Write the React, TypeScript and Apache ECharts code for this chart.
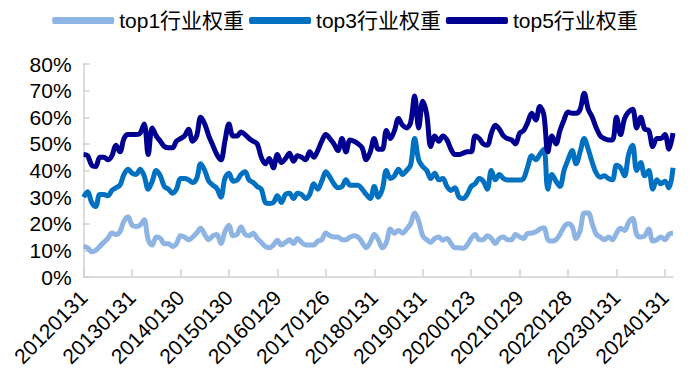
import React, { useEffect, useRef } from "react";
import * as echarts from "echarts";

const janLabels = [
  "20120131", "20130131", "20140130", "20150130", "20160129", "20170126", "20180131",
  "20190131", "20200123", "20210129", "20220128", "20230131", "20240131",
];
const pointCount = 147;

const seriesNames = ["top1行业权重", "top3行业权重", "top5行业权重"];
const seriesColors = ["#8DB4E2", "#0070C0", "#000090"];

const top1 = [
  11.5, 11, 9.5, 10, 11.5, 13, 14.5, 16.5, 16, 17, 21, 22.5, 19.5, 19, 19.5, 21.5, 14, 12, 15, 14.5, 12.5, 12.5, 11.5, 12.5, 15.5,
  15, 14, 15, 16.5, 18.3, 16, 14, 15.5, 16, 12.6, 17, 19.4, 15.5, 16, 18.8, 16, 15.5, 16.4, 14.5, 13, 11.5, 11, 12, 13.8,
  12, 13, 14, 12.6, 14.5, 13, 12, 12, 12, 13.5, 14, 16.5, 15.5, 15, 15, 14, 14, 15, 15.5, 15, 13, 11, 13, 16,
  14, 11, 13, 18, 16.4, 17.5, 16.5, 18, 20, 24, 21, 15.5, 14, 13, 14.5, 15, 13.8, 14.5, 12.6, 11, 11, 10.8, 12, 14.5, 16,
  14, 14, 15.5, 14.5, 12.6, 14.5, 15, 14, 14, 16, 15, 14.5, 16.4, 16.5, 17, 18, 18.5, 14, 13.5, 14, 16, 18.8, 20, 19,
  14.5, 17.5, 24, 24, 20, 16, 15, 14, 15, 14, 16.5, 18.3, 17.5, 20.5, 22, 16, 15, 15.5, 18, 13.5, 14, 15, 14, 16, 16.5,
];

const top3 = [
  30, 32, 28, 26.5, 31, 31, 30.5, 32.5, 33.5, 34.5, 38.5, 40.5, 39, 38.5, 40.5, 38, 33, 36, 40, 38, 34, 33, 31.5, 33, 37,
  37, 36.5, 35.5, 37, 42.5, 40, 36, 34.5, 33.3, 30, 37, 39, 36, 36.4, 38.5, 39.5, 36.4, 35.5, 34, 33, 28, 27.6, 28, 30.5,
  28, 31, 31.5, 29.5, 31.5, 31, 29.5, 31, 35, 33, 36, 39.5, 37.5, 35, 33.5, 34, 36.5, 34.5, 34.5, 34.5, 33, 31, 29.5, 34,
  30, 33, 40, 37, 38, 40.5, 38.5, 40, 42, 52, 44, 41.5, 40, 37, 39, 36.5, 37, 34, 32.5, 33.5, 30, 29.5, 31, 34, 35,
  37, 36, 33, 40, 36.5, 38.5, 37, 36.4, 36.4, 36.4, 36.4, 37, 41.4, 45.5, 44, 46, 48, 33, 38.5, 36, 34, 40, 44, 47.5,
  42.5, 47, 52, 48, 43, 39, 37.5, 38, 37, 36.5, 42, 41, 38, 46, 49.5, 40, 43, 38, 40, 33, 36.5, 35, 36, 33.5, 41,
];

const top5 = [
  46, 45.5, 42, 41.5, 45, 45, 44, 45.5, 49.5, 47, 52, 53.5, 53.5, 53.5, 54, 57.5, 46, 56, 53, 51, 49, 48.5, 48.5, 51, 52,
  53, 55.5, 51, 53, 60, 57.5, 53, 49.5, 46, 44, 51, 57.5, 53, 53, 54.5, 53.5, 52, 51, 50, 45, 42.5, 44.5, 41, 46,
  43, 44.5, 46.5, 43.5, 45.5, 45, 44, 47, 45, 47.5, 51, 53.5, 52, 50, 47.5, 52, 47, 51.5, 51, 50, 48.5, 44, 47, 52,
  48, 48, 55, 52, 55, 59.5, 57, 56, 58, 68, 56, 66, 61, 49, 53, 51, 53, 51.5, 48, 46, 46, 46.5, 47, 47, 53,
  52, 50, 49.5, 54, 57, 55.5, 53, 52, 51.5, 50, 54, 55, 58, 61.5, 59, 64, 61, 47, 53, 50, 55, 59, 62, 61.5,
  61.5, 63, 69, 63, 60, 56, 53, 52, 51.5, 51.5, 60, 53.5, 59.5, 62, 63, 56, 60, 55.5, 55, 49, 52, 52, 53.5, 48, 54,
];

const yTicks = { min: 0, max: 80, interval: 10 };

function buildCategories(): string[] {
  const out: string[] = [];
  for (let k = 0; k < pointCount; k++) {
    const year = 2012 + Math.floor(k / 12);
    const month = (k % 12) + 1;
    if (month === 1) {
      out.push(janLabels[year - 2012]);
    } else {
      const last = new Date(year, month, 0).getDate();
      out.push(`${year}${String(month).padStart(2, "0")}${last}`);
    }
  }
  return out;
}

const FONT = "'Liberation Sans', Arial, 'Noto Sans CJK SC', sans-serif";

export default function App() {
  const ref = useRef<HTMLDivElement>(null);
  useEffect(() => {
    if (!ref.current) return;
    const chart = echarts.init(ref.current, undefined, { renderer: "svg" });
    const categories = buildCategories();
    const dataSets = [top1, top3, top5];
    chart.setOption({
      animation: false,
      textStyle: { fontFamily: FONT },
      legend: {
        top: 0,
        left: "center",
        padding: [2, 5, 5, 0],
        icon: "roundRect",
        itemWidth: 62,
        itemHeight: 7,
        itemGap: 5,
        textStyle: { fontSize: 21, color: "#000", fontFamily: FONT },
        data: seriesNames,
      },
      grid: { left: 64, right: 9, top: 56, bottom: 102, containLabel: false },
      xAxis: {
        type: "category",
        boundaryGap: false,
        data: categories,
        axisLine: { lineStyle: { color: "#D0D0D0", width: 1.5 } },
        axisTick: { show: true, inside: true, length: 8, interval: 11, lineStyle: { color: "#D0D0D0", width: 1.5 } },
        axisLabel: { interval: 11, rotate: 45, fontSize: 21, color: "#000", margin: 17, fontFamily: FONT },
        splitLine: { show: false },
      },
      yAxis: {
        type: "value",
        min: yTicks.min,
        max: yTicks.max,
        interval: yTicks.interval,
        axisLine: { show: true, lineStyle: { color: "#D0D0D0", width: 1.5 } },
        axisTick: { show: true, inside: true, length: 6, lineStyle: { color: "#D0D0D0", width: 1.5 } },
        axisLabel: { formatter: "{value}%", fontSize: 21, color: "#000", margin: 12, fontFamily: FONT },
        splitLine: { show: false },
      },
      series: seriesNames.map((name, i) => ({
        name,
        type: "line",
        data: dataSets[i],
        smooth: 0.35,
        symbol: "none",
        lineStyle: { color: seriesColors[i], width: 5 },
        itemStyle: { color: seriesColors[i] },
        z: 2 + i,
      })),
    });
    return () => chart.dispose();
  }, []);
  return <div ref={ref} style={{ width: 674, height: 371 }} />;
}
